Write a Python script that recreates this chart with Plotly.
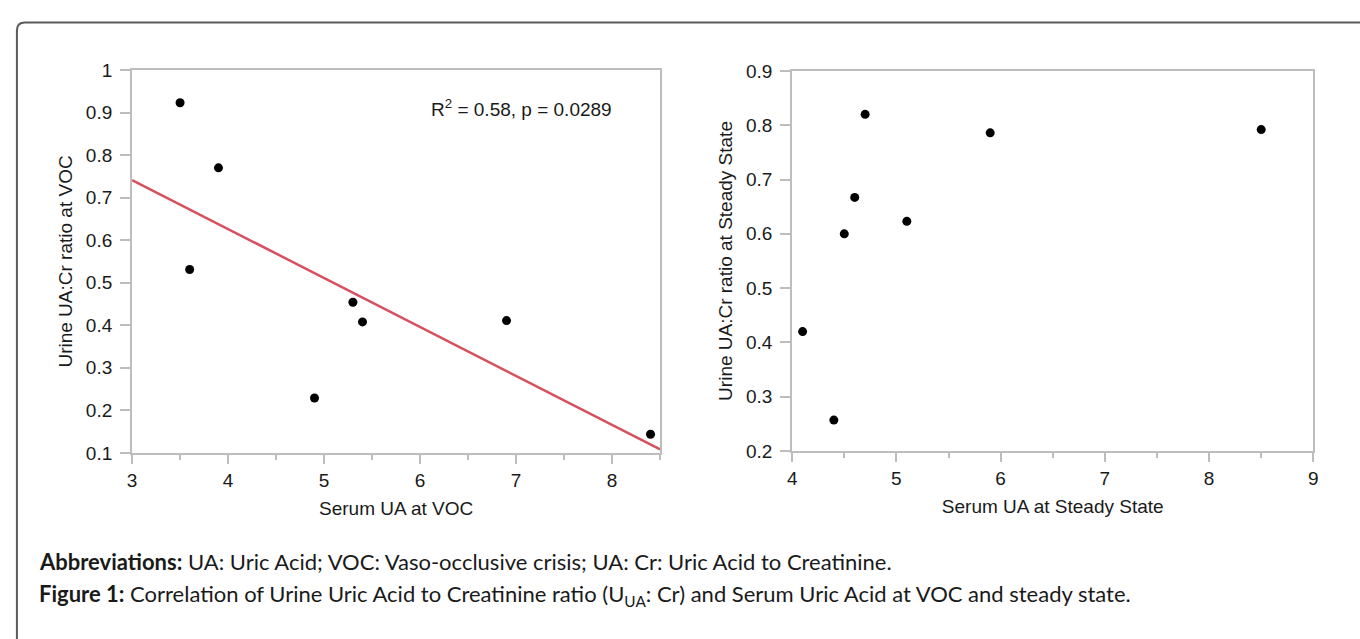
import numpy as np
import plotly.graph_objects as go

# ---- data ----
voc_serum_ua = [3.5, 3.6, 3.9, 4.9, 5.3, 5.4, 6.9, 8.4]
voc_urine_ratio = [0.923, 0.531, 0.770, 0.229, 0.454, 0.408, 0.411, 0.144]

ss_serum_ua = [4.1, 4.4, 4.5, 4.6, 4.7, 5.1, 5.9, 8.5]
ss_urine_ratio = [0.420, 0.257, 0.600, 0.667, 0.820, 0.623, 0.786, 0.792]

left_x_range = [3, 8.5]
left_y_range = [0.1, 1.0]
right_x_range = [4, 9]
right_y_range = [0.2, 0.9]

left_x_title = "Serum UA at VOC"
left_y_title = "Urine UA:Cr ratio at VOC"
right_x_title = "Serum UA at Steady State"
right_y_title = "Urine UA:Cr ratio at Steady State"
fit_label = "R<sup>2</sup> = 0.58, p = 0.0289"
abbrev_text = ("<b>Abbreviations:</b> UA: Uric Acid; VOC: Vaso-occlusive crisis; "
               "UA: Cr: Uric Acid to Creatinine.")
figure_text = ("<b>Figure 1:</b> Correlation of Urine Uric Acid to Creatinine ratio "
               "(U<sub>UA</sub>: Cr) and Serum Uric Acid at VOC and steady state.")

# ---- linear fit for the VOC panel ----
slope, intercept = np.polyfit(voc_serum_ua, voc_urine_ratio, 1)
fit_x = np.array(left_x_range, dtype=float)
fit_y = slope * fit_x + intercept

W, H = 1360, 639
AX_COL = "#bdbdbd"
TXT = "#1a1a1a"
FONT = "Liberation Sans, Arial, sans-serif"

fig = go.Figure()

fig.add_trace(go.Scatter(x=fit_x, y=fit_y, mode="lines",
                         line=dict(color="#d6505d", width=2.5),
                         xaxis="x", yaxis="y", showlegend=False, hoverinfo="skip"))
fig.add_trace(go.Scatter(x=voc_serum_ua, y=voc_urine_ratio, mode="markers",
                         marker=dict(color="black", size=9),
                         xaxis="x", yaxis="y", showlegend=False))
fig.add_trace(go.Scatter(x=ss_serum_ua, y=ss_urine_ratio, mode="markers",
                         marker=dict(color="black", size=9),
                         xaxis="x2", yaxis="y2", showlegend=False))

def xax(domain, rng, tick0, anchor, title):
    return dict(domain=domain, range=rng, anchor=anchor,
                tickmode="linear", tick0=tick0, dtick=1,
                ticks="outside", ticklen=9, tickwidth=1.5, tickcolor=AX_COL,
                minor=dict(tickmode="linear", tick0=tick0, dtick=0.5, ticks="outside",
                           ticklen=5, tickwidth=1.5, tickcolor=AX_COL),
                showline=True, linecolor=AX_COL, linewidth=2, mirror=True,
                showgrid=False, zeroline=False,
                tickfont=dict(family=FONT, size=19, color=TXT),
                ticklabelstandoff=0,
                title=dict(text=title, font=dict(family=FONT, size=19, color=TXT), standoff=12))

def yax(domain, rng, tick0, anchor, title):
    return dict(domain=domain, range=rng, anchor=anchor,
                tickmode="linear", tick0=tick0, dtick=0.1,
                ticks="outside", ticklen=10, tickwidth=1.5, tickcolor=AX_COL,
                showline=True, linecolor=AX_COL, linewidth=2, mirror=True,
                showgrid=False, zeroline=False,
                tickfont=dict(family=FONT, size=19, color=TXT),
                ticklabelstandoff=4,
                title=dict(text=title, font=dict(family=FONT, size=19, color=TXT), standoff=8))

fig.update_layout(
    width=W, height=H,
    margin=dict(l=0, r=0, t=0, b=0),
    paper_bgcolor="white", plot_bgcolor="white",
    xaxis=xax([128 / W, 660 / W], left_x_range, 3, "y", left_x_title),
    yaxis=yax([1 - 458 / H, 1 - 62 / H], left_y_range, 0.1, "x", left_y_title),
    xaxis2=xax([793 / W, 1318 / W], right_x_range, 4, "y2", right_x_title),
    yaxis2=yax([1 - 456 / H, 1 - 63 / H], right_y_range, 0.2, "x2", right_y_title),
)

fig.add_annotation(x=6.09, y=0.91, xref="x", yref="y", text=fit_label,
                   showarrow=False, xanchor="left", yanchor="middle",
                   font=dict(family=FONT, size=19, color=TXT))

CAP_FONT = "Lato, Carlito, Calibri, sans-serif"
fig.add_annotation(x=32 / W, y=1 - 570 / H, xref="paper", yref="paper", text=abbrev_text,
                   showarrow=False, xanchor="left", yanchor="middle",
                   font=dict(family=CAP_FONT, size=22, color=TXT))
fig.add_annotation(x=32 / W, y=1 - 605 / H, xref="paper", yref="paper", text=figure_text,
                   showarrow=False, xanchor="left", yanchor="middle",
                   font=dict(family=CAP_FONT, size=22, color=TXT))

# outer rounded frame (open to the right and bottom)
x0, yt = 12 / W, 1 - 13 / H
rx, ry = 8 / W, 8 / H
fig.add_shape(type="path", xref="paper", yref="paper",
              path=f"M {x0},-0.05 L {x0},{yt - ry} Q {x0},{yt} {x0 + rx},{yt} L 1.05,{yt}",
              line=dict(color="#5a5a5a", width=2))

fig.write_html("out.html",
               config={"displayModeBar": False},
               post_script="document.body.style.margin='0';document.body.style.overflow='hidden';")
